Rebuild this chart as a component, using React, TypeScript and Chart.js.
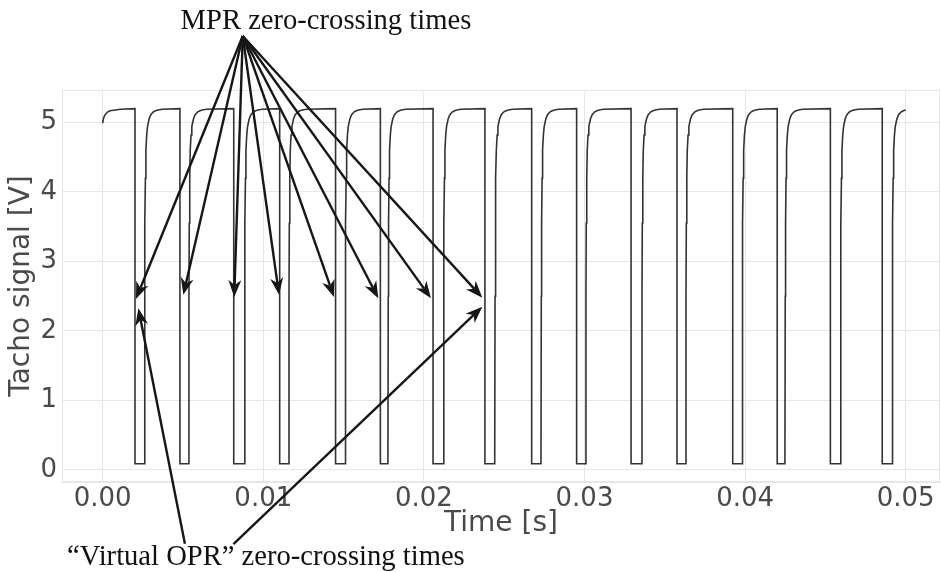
import React, { useEffect, useRef } from 'react';
import { Chart, registerables } from 'chart.js';

Chart.register(...registerables);

// ---- data ----
const fallTimes = [0.00201, 0.00481, 0.00816, 0.01102, 0.0145, 0.01729, 0.02057, 0.0238, 0.02671, 0.02951, 0.0329, 0.03576, 0.03923, 0.042, 0.04531, 0.04854];
const riseTimes = [0.00259, 0.00535, 0.00882, 0.01158, 0.01509, 0.01776, 0.02121, 0.02441, 0.02729, 0.03007, 0.03356, 0.0363, 0.03981, 0.04248, 0.04593, 0.04915];
const startT = [0, 0.00005, 0.00014, 0.0003, 0.00045, 0.0008, 0.0011];
const startV = [4.99, 5.06, 5.11, 5.15, 5.17, 5.18, 5.19];
const riseDt = [0, 0.00002, 0.00004, 0.00007, 0.0001, 0.00015, 0.0002, 0.0003, 0.0004, 0.00055, 0.0007, 0.00085, 0.0011];
const riseV = [0.09, 2.5, 3.55, 4.2, 4.6, 4.82, 4.94, 5.05, 5.11, 5.15, 5.17, 5.18, 5.19];
const HIGH = 5.2;
const LOW = 0.09;
const END_T = 0.05;

const xTicks = [0, 0.01, 0.02, 0.03, 0.04, 0.05];
const yTicks = [0, 1, 2, 3, 4, 5];

// annotations (data coordinates)
const mprLabel = 'MPR zero-crossing times';
const mprLabelAt = [0.0139, 6.345];
const mprFrom = [0.00872, 6.245];
const mprTipT = [0.00207, 0.00502, 0.00819, 0.01098, 0.0144, 0.01716, 0.02044, 0.02364];
const mprTipV = [2.46, 2.52, 2.49, 2.52, 2.49, 2.47, 2.47, 2.48];

const oprLabel = '\u201CVirtual OPR\u201D zero-crossing times';
const oprLabelAt = [-0.00222, -1.367];
const oprFromT = [0.00512, 0.00814];
const oprFromV = [-1.06, -1.065];
const oprTipT = [0.00222, 0.02364];
const oprTipV = [2.327, 2.35];

function buildPoints() {
  const pts: { x: number; y: number }[] = [];
  startT.forEach((t, i) => pts.push({ x: t, y: startV[i] }));
  fallTimes.forEach((f, i) => {
    pts.push({ x: f, y: HIGH });
    pts.push({ x: f, y: LOW });
    const r = riseTimes[i];
    const next = i + 1 < fallTimes.length ? fallTimes[i + 1] : END_T;
    riseDt.forEach((d, j) => {
      if (r + d <= next + 1e-9) pts.push({ x: r + d, y: riseV[j] });
    });
  });
  return pts;
}

function drawArrow(ctx: CanvasRenderingContext2D, x0: number, y0: number, x1: number, y1: number) {
  const ang = Math.atan2(y1 - y0, x1 - x0);
  const c = Math.cos(ang), s = Math.sin(ang);
  const L = 17, W = 6.5, ind = 0.7;
  ctx.beginPath();
  ctx.moveTo(x0, y0);
  ctx.lineTo(x1 - c * L * ind, y1 - s * L * ind);
  ctx.stroke();
  ctx.beginPath();
  ctx.moveTo(x1, y1);
  ctx.lineTo(x1 - c * L - s * W, y1 - s * L + c * W);
  ctx.lineTo(x1 - c * L * ind, y1 - s * L * ind);
  ctx.lineTo(x1 - c * L + s * W, y1 - s * L - c * W);
  ctx.closePath();
  ctx.fill();
}

const annotationPlugin = {
  id: 'annots',
  afterDraw(chart: any) {
    const { ctx, chartArea, scales } = chart;
    const xs = scales.x, ys = scales.y;
    const px = (t: number) => xs.getPixelForValue(t);
    const py = (v: number) => ys.getPixelForValue(v);
    ctx.save();
    // light frame around plot area
    ctx.strokeStyle = '#e6e6e6';
    ctx.lineWidth = 1;
    ctx.strokeRect(chartArea.left + 0.5, chartArea.top + 0.5, chartArea.right - chartArea.left - 1, chartArea.bottom - chartArea.top - 1);

    ctx.strokeStyle = '#161616';
    ctx.fillStyle = '#161616';
    ctx.lineWidth = 2.4;
    ctx.lineCap = 'butt';
    mprTipT.forEach((t, i) => {
      drawArrow(ctx, px(mprFrom[0]), py(mprFrom[1]), px(t), py(mprTipV[i]));
    });
    oprTipT.forEach((t, i) => {
      drawArrow(ctx, px(oprFromT[i]), py(oprFromV[i]), px(t), py(oprTipV[i]));
    });

    ctx.font = '28.6px "Liberation Serif", "Times New Roman", serif';
    ctx.fillStyle = '#111';
    ctx.textBaseline = 'alphabetic';
    ctx.textAlign = 'center';
    ctx.fillText(mprLabel, px(mprLabelAt[0]), py(mprLabelAt[1]));
    ctx.textAlign = 'left';
    ctx.fillText(oprLabel, px(oprLabelAt[0]), py(oprLabelAt[1]));
    ctx.restore();
  },
};

export default function App() {
  const ref = useRef<HTMLCanvasElement | null>(null);
  useEffect(() => {
    document.body.style.margin = '0';
    const canvas = ref.current;
    if (!canvas) return;
    const tickColor = '#4a4a4a';
    const gridColor = '#e6e6e6';
    const chart = new Chart(canvas, {
      type: 'line',
      data: {
        datasets: [
          {
            data: buildPoints(),
            borderColor: '#333333',
            borderWidth: 1.6,
            pointRadius: 0,
            tension: 0,
            fill: false,
          },
        ],
      },
      options: {
        animation: false,
        responsive: false,
        events: [],
        layout: { padding: { top: 90, right: 1, left: 0, bottom: 0 } },
        plugins: { legend: { display: false }, tooltip: { enabled: false } },
        scales: {
          x: {
            type: 'linear',
            min: -0.002534,
            max: 0.052136,
            afterBuildTicks: (s: any) => {
              s.ticks = xTicks.map((v) => ({ value: v }));
            },
            afterFit: (s: any) => {
              s.height = 90;
            },
            grid: { color: gridColor, drawTicks: false, lineWidth: 1 },
            border: { display: true, color: gridColor },
            ticks: {
              color: tickColor,
              font: { family: 'DejaVu Sans', size: 26 },
              padding: 2,
              maxRotation: 0,
              autoSkip: false,
              callback: (v: any) => Number(v).toFixed(2),
            },
            title: {
              display: true,
              text: 'Time [s]',
              color: tickColor,
              font: { family: 'DejaVu Sans', size: 28 },
              padding: { top: 0, bottom: 31 },
            },
          },
          y: {
            type: 'linear',
            min: -0.1727,
            max: 5.4676,
            afterBuildTicks: (s: any) => {
              s.ticks = yTicks.map((v) => ({ value: v }));
            },
            afterFit: (s: any) => {
              s.width = 62;
            },
            grid: { color: gridColor, drawTicks: false, lineWidth: 1 },
            border: { display: true, color: gridColor },
            ticks: {
              color: tickColor,
              font: { family: 'DejaVu Sans', size: 26 },
              padding: 5,
              autoSkip: false,
              callback: (v: any) => String(v),
            },
            title: {
              display: true,
              text: 'Tacho signal [V]',
              color: tickColor,
              font: { family: 'DejaVu Sans', size: 28 },
              padding: { top: 5, bottom: 0 },
            },
          },
        },
      },
      plugins: [annotationPlugin],
    } as any);
    return () => chart.destroy();
  }, []);
  return (
    <div style={{ width: 941, height: 572, background: '#fff' }}>
      <canvas ref={ref} width={941} height={572} />
    </div>
  );
}
